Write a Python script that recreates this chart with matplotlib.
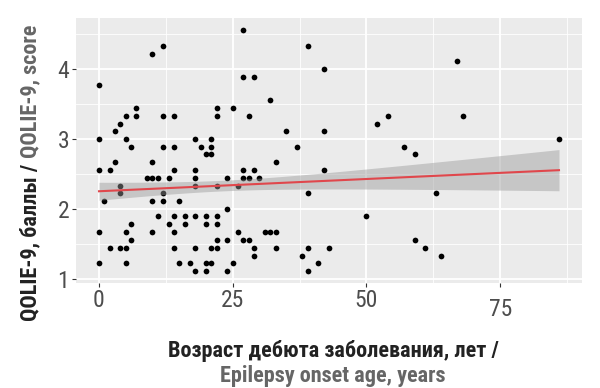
import numpy as np
import matplotlib
matplotlib.use('Agg')
import matplotlib.pyplot as plt
from matplotlib import font_manager as fm
from matplotlib.transforms import ScaledTranslation

# onset age (years) and QOLIE-9 score, grouped by score level (top to bottom)
onset_age = [
    27,
    12, 39,
    10,
    67,
    42,
    27, 29,
    0,
    32,
    7, 22, 25,
    5, 7, 12, 14, 22, 28, 54, 68,
    4, 52,
    3, 35, 42,
    0, 5, 18, 21, 86,
    6, 12, 14, 19, 21, 37, 57,
    20, 21, 59,
    3, 10, 33,
    0, 2, 14, 18, 27, 29, 42,
    9, 10, 11, 13, 18, 24, 27, 28, 30,
    4, 18, 22, 26,
    4, 12, 39, 63,
    1, 10, 12, 15,
    24,
    11, 14, 16, 18, 20, 22, 50,
    6, 13, 16, 20, 22,
    0, 5, 10, 14, 26, 31, 32, 33,
    6, 22, 24, 27, 28, 59,
    2, 4, 5, 14, 18, 21, 22, 29, 33, 39, 43, 61,
    29, 38, 64,
    0, 5, 15, 17, 20, 21, 25, 41,
    18, 20, 24, 39,
]
qolie_score = (
    [4.56] * 1 + [4.33] * 2 + [4.22] * 1 + [4.11] * 1 + [4.00] * 1 +
    [3.89] * 2 + [3.78] * 1 + [3.56] * 1 + [3.44] * 3 + [3.33] * 8 +
    [3.22] * 2 + [3.11] * 3 + [3.00] * 5 + [2.89] * 7 + [2.78] * 3 +
    [2.67] * 3 + [2.56] * 7 + [2.44] * 9 + [2.33] * 4 + [2.22] * 4 +
    [2.11] * 4 + [2.00] * 1 + [1.89] * 7 + [1.78] * 5 + [1.67] * 8 +
    [1.56] * 6 + [1.44] * 12 + [1.33] * 3 + [1.22] * 8 + [1.11] * 4
)

x_ticks = [0, 25, 50, 75]
y_ticks = [1, 2, 3, 4]
ylabel_ru = 'QOLIE-9, баллы / '
ylabel_en = 'QOLIE-9, score'
xlabel_ru = 'Возраст дебюта заболевания, лет /'
xlabel_en = 'Epilepsy onset age, years'

# pick a narrow face if one is installed, else plain DejaVu at smaller sizes
fonts = fm.fontManager.ttflist
names = {f.name for f in fonts}
stretch = 'normal'
if 'Roboto Condensed' in names:
    fam, lab_fs, tick_fs = 'Roboto Condensed', 16, 17
elif 'Liberation Sans Narrow' in names:
    fam, lab_fs, tick_fs = 'Liberation Sans Narrow', 15, 17
else:
    fam, lab_fs, tick_fs = 'DejaVu Sans', 11.5, 13
plt.rcParams['font.family'] = [fam, 'DejaVu Sans']
plt.rcParams['font.stretch'] = stretch

x = np.array(onset_age, float)
y = np.array(qolie_score, float)

# linear fit with a +-1 SE band
n = len(x)
b, a = np.polyfit(x, y, 1)
resid = y - (a + b * x)
s = np.sqrt(np.sum(resid ** 2) / (n - 2))
sxx = np.sum((x - x.mean()) ** 2)
xs = np.linspace(x.min(), x.max(), 100)
fit = a + b * xs
se = s * np.sqrt(1 / n + (xs - x.mean()) ** 2 / sxx)

fig = plt.figure(figsize=(6, 3.88), dpi=100)
ax = fig.add_axes([76 / 600, 1 - 283 / 388, 506 / 600, 265 / 388])
ax.set_facecolor('#EBEBEB')
for sp in ax.spines.values():
    sp.set_visible(False)

xr = x.max() - x.min(); yr = y.max() - y.min()
ax.set_xlim(x.min() - 0.05 * xr, x.max() + 0.05 * xr)
ax.set_ylim(y.min() - 0.05 * yr, y.max() + 0.05 * yr)
ax.set_xticks(x_ticks)
ax.set_yticks(y_ticks)
ax.set_xticks([12.5, 37.5, 62.5, 87.5], minor=True)
ax.set_yticks([1.5, 2.5, 3.5, 4.5], minor=True)
ax.grid(which='major', color='white', lw=1.3)
ax.grid(which='minor', color='white', lw=0.6)
ax.set_axisbelow(True)
ax.tick_params(which='major', length=3, width=0.8, color='#333333',
               labelsize=tick_fs, labelcolor='#4D4D4D', pad=2)
ax.tick_params(axis='x', pad=1)
ax.tick_params(which='minor', length=0)

ax.scatter(x, y, s=17, color='black', lw=0, zorder=2)
ax.fill_between(xs, fit - se, fit + se, color='#999999',
                alpha=0.45, lw=0, zorder=3)
ax.plot(xs, fit, color='#E0474C', lw=1.5, zorder=4)

# the "75" label sits a bit lower in the original
lab75 = ax.get_xticklabels()[3]
lab75.set_transform(lab75.get_transform() +
                    ScaledTranslation(0, -9 / 100, fig.dpi_scale_trans))

fig.text(333 / 600, 1 - 357 / 388, xlabel_ru, ha='center', va='baseline',
         fontsize=lab_fs, fontweight='bold', color='#222222')
fig.text(333 / 600, 1 - 382 / 388, xlabel_en, ha='center', va='baseline',
         fontsize=lab_fs, fontweight='bold', color='#666666')

# two-colour y label: measure, then stack the parts
t1 = fig.text(30 / 600, 0, ylabel_ru, rotation=90, ha='center', va='bottom',
              fontsize=lab_fs, fontweight='bold', color='#222222')
t2 = fig.text(30 / 600, 0, ylabel_en, rotation=90, ha='center', va='bottom',
              fontsize=lab_fs, fontweight='bold', color='#666666')
fig.canvas.draw()
r = fig.canvas.get_renderer()
h1 = t1.get_window_extent(r).height
h2 = t2.get_window_extent(r).height
ybot = (388 - 173) - (h1 + h2) / 2
t1.set_y(ybot / 388)
t2.set_y((ybot + h1) / 388)

fig.savefig('out.png', dpi=100)
